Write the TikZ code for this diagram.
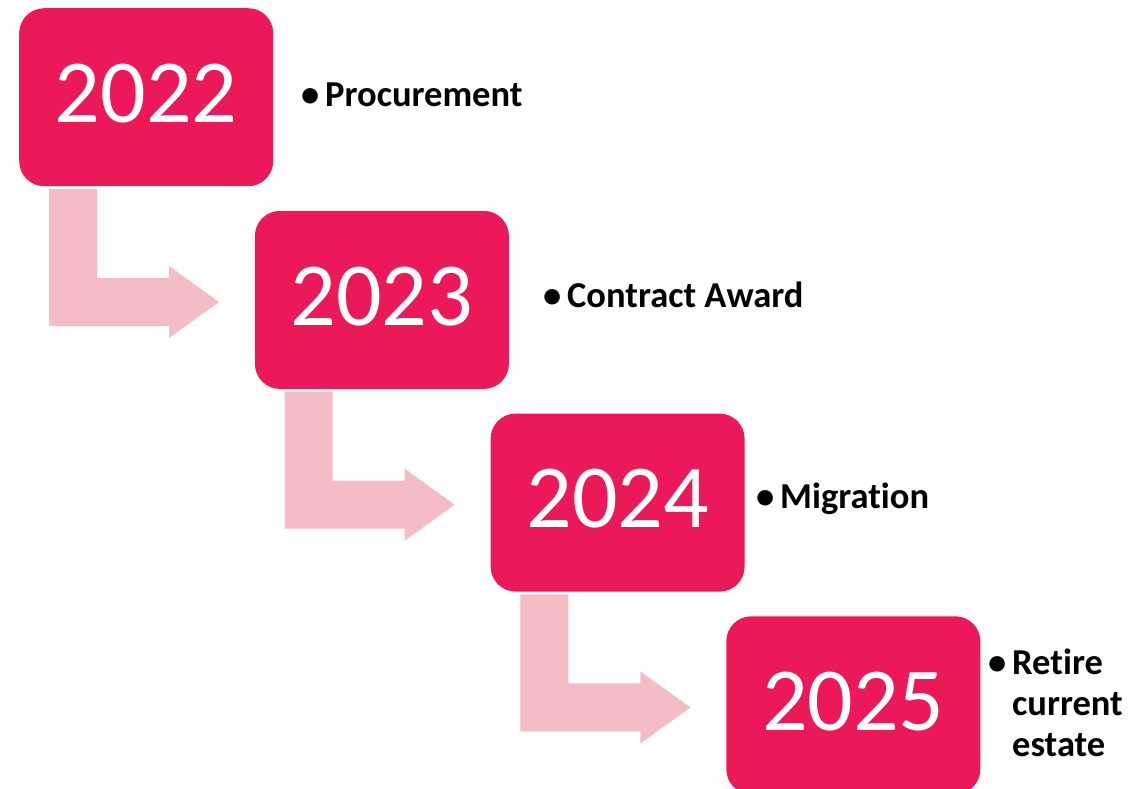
\documentclass[tikz,border=0pt]{standalone}
\usepackage{fontspec}
\setmainfont{Carlito}[Ligatures={NoCommon,NoRare,NoDiscretionary}]
\usetikzlibrary{calc}
\definecolor{boxred}{HTML}{EC195A}
\definecolor{arrowpink}{HTML}{F4BCC4}
\begin{document}
\begin{tikzpicture}[x=1pt,y=-1pt,
  yearbox/.style={rectangle, rounded corners=25pt, fill=boxred, minimum width=254pt, minimum height=178pt, inner sep=0pt, anchor=north west},
  yeartext/.style={text=white, font=\fontsize{90}{100}\selectfont, anchor=base, inner sep=0pt},
  bullettext/.style={font=\fontsize{36.5}{41}\selectfont\bfseries, anchor=base west, inner sep=0pt},
  bentarrow/.style={fill=arrowpink}]
\useasboundingbox (0,0) rectangle (1132,789);
% bent arrows
\foreach \i in {1,2,3}{
  \coordinate (a\i) at ({19+235.7*(\i-1)},{8+202.7*(\i-1)});
}
\fill[bentarrow] ($(a1)+(30,181)$) -- ++(48,0) -- ++(0,89) -- ++(72,0) -- ++(0,-12) -- ++(50,36) -- ++(-50,36) -- ++(0,-12) -- ++(-120,0) -- cycle;
\fill[bentarrow] ($(a2)+(30,181)$) -- ++(48,0) -- ++(0,89) -- ++(72,0) -- ++(0,-12) -- ++(50,36) -- ++(-50,36) -- ++(0,-12) -- ++(-120,0) -- cycle;
\fill[bentarrow] ($(a3)+(30,181)$) -- ++(48,0) -- ++(0,89) -- ++(72,0) -- ++(0,-12) -- ++(50,36) -- ++(-50,36) -- ++(0,-12) -- ++(-120,0) -- cycle;
% boxes
\node[yearbox] (b1) at (19,8) {};
\node[yearbox] (b2) at (254.7,210.7) {};
\node[yearbox] (b3) at (490.4,413.4) {};
\node[yearbox] (b4) at (726.1,616.1) {};
\node[yeartext] (y1) at ($(b1.north)+(0,114.5)$) {2022};
\node[yeartext] (y2) at ($(b2.north)+(0,114.5)$) {2023};
\node[yeartext] (y3) at ($(b3.north)+(0,114.5)$) {2024};
\node[yeartext] (y4) at ($(b4.north)+(0,114.5)$) {2025};
% labels
\node[bullettext] (l1) at (301,107) {\makebox[24pt][l]{•}Procurement};
\node[bullettext] (l2) at (543,307) {\makebox[24pt][l]{•}Contract Award};
\node[bullettext] (l3) at (756,508) {\makebox[24pt][l]{•}Migration};
\node[bullettext] (l4) at (988,674) {\makebox[24pt][l]{•}\begin{tabular}[t]{@{}l@{}}Retire\\current\\estate\end{tabular}};
\end{tikzpicture}
\end{document}
